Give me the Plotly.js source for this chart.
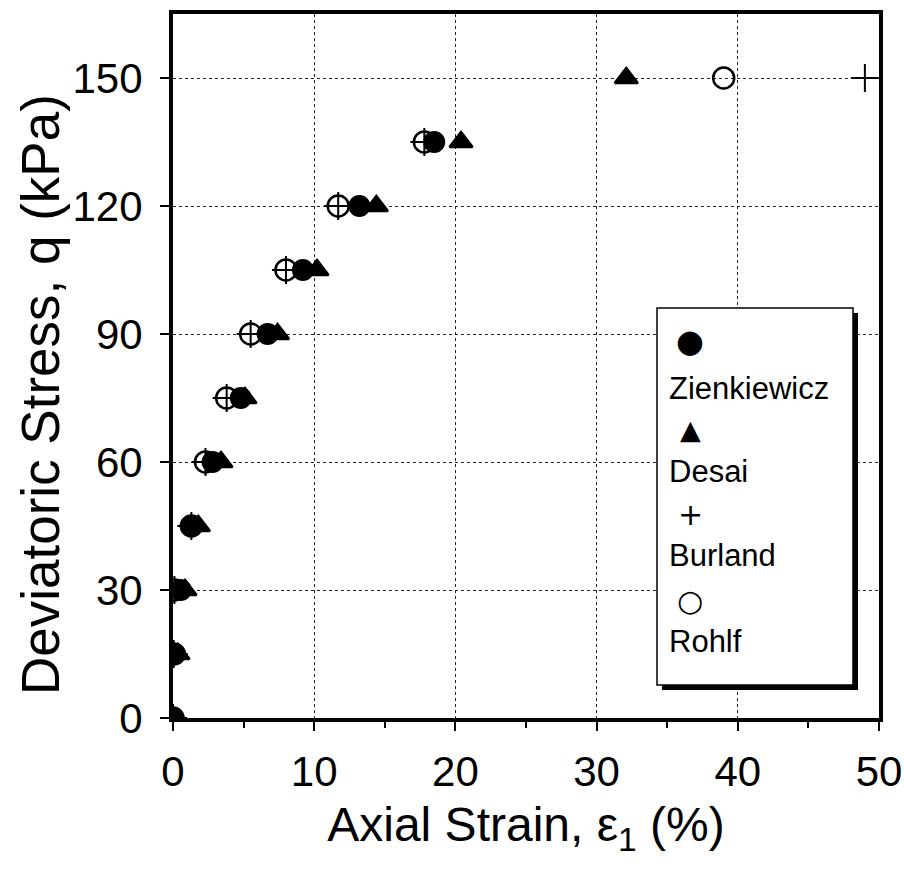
<!DOCTYPE html>
<html>
<head>
<meta charset="utf-8">
<script src="https://cdn.plot.ly/plotly-3.0.1.min.js"></script>
<style>html,body{margin:0;padding:0;background:#fff;}#chart{width:904px;height:878px;}</style>
</head>
<body>
<div id="chart"></div>
<script>
// Deviatoric stress levels (kPa)
const qLevels = [0, 15, 30, 45, 60, 75, 90, 105, 120, 135, 150];
// Axial strain (%) for each model
const zienkiewiczStrain = [0, 0.15, 0.55, 1.3, 2.8, 4.8, 6.7, 9.2, 13.2, 18.5];
const desaiStrain       = [0, 0.35, 0.85, 1.8, 3.4, 5.1, 7.4, 10.2, 14.4, 20.4, 32.1];
const burlandStrain     = [0, 0.05, 0.1, 1.3, 2.3, 3.8, 5.5, 8.0, 11.7, 17.8, 49.0];
const rohlfStrain       = [0, 0.05, 0.1, 1.3, 2.3, 3.8, 5.5, 8.0, 11.7, 17.8, 39.0];
const seriesNames = ['Zienkiewicz', 'Desai', 'Burland', 'Rohlf'];
const xTickVals = [0, 10, 20, 30, 40, 50];
const yTickVals = [0, 30, 60, 90, 120, 150];
const xTitle = 'Axial Strain, \u03B5<sub>1</sub> (%)';
const yTitle = 'Deviatoric Stress, q (kPa)';

const FONT = 'Liberation Sans, Arial, Helvetica, sans-serif';

const traces = [
  {name: seriesNames[2], x: burlandStrain, y: qLevels.slice(0, burlandStrain.length), mode: 'markers', type: 'scatter',
   marker: {symbol: 'cross-thin', size: 20, color: '#000', line: {color: '#000', width: 2}}},
  {name: seriesNames[3], x: rohlfStrain, y: qLevels.slice(0, rohlfStrain.length), mode: 'markers', type: 'scatter',
   marker: {symbol: 'circle-open', size: 21, color: '#000', line: {color: '#000', width: 2.5}}},
  {name: seriesNames[0], x: zienkiewiczStrain, y: qLevels.slice(0, zienkiewiczStrain.length), mode: 'markers', type: 'scatter',
   marker: {symbol: 'circle', size: 22, color: '#000', line: {width: 0}}},
  {name: seriesNames[1], x: desaiStrain, y: qLevels.slice(0, desaiStrain.length), mode: 'markers', type: 'scatter',
   marker: {symbol: 'triangle-up', size: 20, color: '#000', line: {color: '#000', width: 2.5}}}
];

// pixel -> paper helpers for the hand-drawn legend box and the y title
const PX0 = 173, PX1 = 879, PY0 = 14, PY1 = 718;
const px = v => (v - PX0) / (PX1 - PX0);
const py = v => (PY1 - v) / (PY1 - PY0);

const legendGlyphs = ['\u25CF', '\u25B2', '+', '\u25CB'];
const glyphY = [341, 429, 514, 600];
const labelY = [388, 471, 555, 641];
const glyphSize = [32, 27, 30, 30];

const annotations = [];
seriesNames.forEach((n, i) => {
  annotations.push({xref: 'paper', yref: 'paper', x: px(690), y: py(glyphY[i]), xanchor: 'center', yanchor: 'middle',
    text: legendGlyphs[i], showarrow: false, font: {family: 'DejaVu Sans, ' + FONT, size: glyphSize[i], color: '#000'}});
  annotations.push({xref: 'paper', yref: 'paper', x: px(667), y: py(labelY[i]), xanchor: 'left', yanchor: 'middle',
    text: n, showarrow: false, font: {family: FONT, size: 31, color: '#000'}});
});
// y-axis title (placed as in the original, slightly below the plot centre)
annotations.push({xref: 'paper', yref: 'paper', x: px(40), y: py(395), xanchor: 'center', yanchor: 'middle',
  textangle: -90, text: yTitle, showarrow: false, font: {family: FONT, size: 53, color: '#000'}});

const layout = {
  width: 904, height: 878,
  margin: {l: PX0, r: 904 - PX1, t: PY0, b: 878 - PY1, pad: 0},
  paper_bgcolor: '#fff', plot_bgcolor: '#fff',
  showlegend: false,
  font: {family: FONT, color: '#000'},
  xaxis: {
    range: [0, 50], tickvals: xTickVals, ticktext: xTickVals.map(String),
    ticks: 'outside', ticklen: 9, tickwidth: 2, tickcolor: '#000',
    minor: {dtick: 5, tick0: 0, ticks: 'outside', ticklen: 6, tickwidth: 2, tickcolor: '#000', showgrid: false},
    showline: true, linewidth: 4, linecolor: '#000', mirror: true,
    showgrid: true, gridcolor: '#222', griddash: 'dot', gridwidth: 1,
    zeroline: false,
    tickfont: {family: FONT, size: 42, color: '#000'},
    ticklabelstandoff: 5,
    title: {text: xTitle, font: {family: FONT, size: 48, color: '#000'}, standoff: 14}
  },
  yaxis: {
    range: [0, 165], tickvals: yTickVals, ticktext: yTickVals.map(String),
    ticks: 'outside', ticklen: 9, tickwidth: 2, tickcolor: '#000',
    showline: true, linewidth: 4, linecolor: '#000', mirror: true,
    showgrid: true, gridcolor: '#222', griddash: 'dot', gridwidth: 1,
    zeroline: false,
    tickfont: {family: FONT, size: 42, color: '#000'},
    ticklabelstandoff: 9
  },
  shapes: [
    {type: 'rect', xref: 'paper', yref: 'paper', x0: px(662), x1: px(858), y0: py(690), y1: py(313),
     fillcolor: '#000', line: {width: 0}, layer: 'above'},
    {type: 'rect', xref: 'paper', yref: 'paper', x0: px(657), x1: px(853), y0: py(685), y1: py(308),
     fillcolor: '#fff', line: {color: '#000', width: 1.5}, layer: 'above'}
  ],
  annotations: annotations
};

Plotly.newPlot('chart', traces, layout, {displayModeBar: false, staticPlot: true});
</script>
</body>
</html>
